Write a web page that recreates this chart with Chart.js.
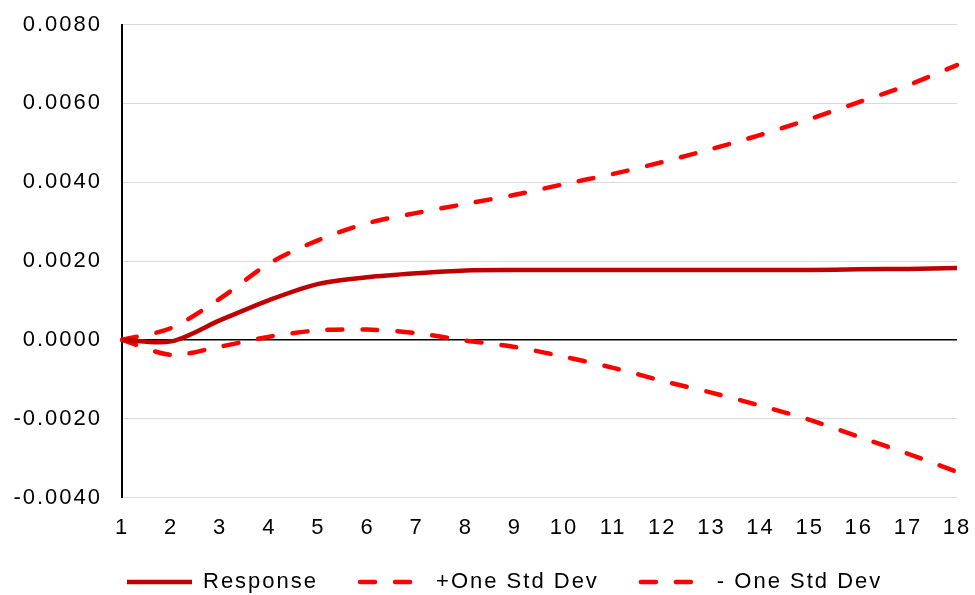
<!DOCTYPE html>
<html>
<head>
<meta charset="utf-8">
<script src="https://cdn.jsdelivr.net/npm/chart.js@4.4.1/dist/chart.umd.min.js"></script>
<style>
  html, body { margin: 0; padding: 0; background: #ffffff; }
  #wrap { width: 975px; height: 595px; position: relative; }
</style>
</head>
<body>
<div id="wrap"><canvas id="chart"></canvas></div>
<script>
// Periods after the shock
const periods = ['1','2','3','4','5','6','7','8','9','10','11','12','13','14','15','16','17','18'];

// Impulse response and its one-standard-deviation band
const response = [0, -0.00004, 0.00050, 0.00101, 0.00142, 0.00159, 0.00169, 0.00176, 0.00177,
                  0.00177, 0.00177, 0.00177, 0.00177, 0.00177, 0.00177, 0.00179, 0.00180, 0.00182];
const upperBand = [0, 0.00030, 0.00105, 0.00194, 0.00253, 0.00296, 0.00322, 0.00345, 0.00368,
                   0.00395, 0.00421, 0.00451, 0.00484, 0.00520, 0.00560, 0.00603, 0.00646, 0.00697];
const lowerBand = [0, -0.00038, -0.00017, 0.00008, 0.00024, 0.00026, 0.00017, -0.00002, -0.00018,
                   -0.00043, -0.00071, -0.00104, -0.00134, -0.00167, -0.00203, -0.00246, -0.00289, -0.00335];

const seriesNames = ['Response', '+One Std Dev', '- One Std Dev'];

// Value axis range
const yMin = -0.004, yMax = 0.008, yStep = 0.002;

const FONT = { family: '"Liberation Sans", Arial, sans-serif', size: 22 };

// Slightly wider letter spacing for all canvas text; legend row starts under the plot,
// and the category labels get room below the axis
const helperPlugin = {
  id: 'helper',
  beforeLayout(chart) { chart.ctx.letterSpacing = '2px'; },
  afterLayout(chart) {
    if (chart.legend) chart.legend.left = 85;
    const x = chart.scales.x;
    if (x) x.bottom = x.top + 50;
  },
  beforeDraw(chart) { chart.ctx.letterSpacing = '2px'; }
};

new Chart(document.getElementById('chart'), {
  type: 'line',
  data: {
    labels: periods,
    datasets: [
      {
        label: seriesNames[0],
        data: response,
        borderColor: '#C00000',
        backgroundColor: '#C00000',
        borderWidth: 4.5,
        borderCapStyle: 'butt',
        pointRadius: 0,
        tension: 0.3
      },
      {
        label: seriesNames[1],
        data: upperBand,
        borderColor: '#FF0000',
        backgroundColor: '#FF0000',
        borderWidth: 4.5,
        borderDash: [15, 20],
        borderCapStyle: 'round',
        pointRadius: 0,
        tension: 0.3
      },
      {
        label: seriesNames[2],
        data: lowerBand,
        borderColor: '#FF0000',
        backgroundColor: '#FF0000',
        borderWidth: 4.5,
        borderDash: [15, 20],
        borderCapStyle: 'round',
        pointRadius: 0,
        tension: 0.3
      }
    ]
  },
  options: {
    responsive: true,
    maintainAspectRatio: false,
    animation: false,
    layout: { padding: { left: 0, right: 18, top: 24.5, bottom: -8 } },
    plugins: {
      legend: {
        position: 'bottom',
        align: 'start',
        labels: {
          usePointStyle: true,
          pointStyleWidth: 65,
          padding: 42,
          color: '#000000',
          font: FONT,
          generateLabels(chart) {
            return chart.data.datasets.map((ds, i) => ({
              text: ds.label,
              fillStyle: ds.borderColor,
              strokeStyle: ds.borderColor,
              fontColor: '#000000',
              lineWidth: ds.borderWidth,
              lineDash: ds.borderDash || [],
              lineDashOffset: 0,
              lineCap: ds.borderCapStyle,
              pointStyle: 'line',
              hidden: false,
              datasetIndex: i
            }));
          }
        }
      },
      tooltip: { enabled: false }
    },
    scales: {
      x: {
        offset: false,
        grid: { display: false, drawTicks: false },
        border: { display: false },
        ticks: { color: '#000000', font: FONT, padding: 17, maxRotation: 0, autoSkip: false },
        afterFit(scale) { scale.height = 31.5; scale.paddingLeft = 0; scale.paddingRight = 0; }
      },
      y: {
        min: yMin,
        max: yMax,
        grid: {
          drawTicks: false,
          color: (ctx) => (ctx.tick && Math.abs(ctx.tick.value) < 1e-9) ? '#000000' : '#D9D9D9',
          lineWidth: (ctx) => (ctx.tick && Math.abs(ctx.tick.value) < 1e-9) ? 1.5 : 1
        },
        border: { display: true, color: '#000000', width: 2 },
        ticks: {
          stepSize: yStep,
          color: '#000000',
          font: FONT,
          padding: 20,
          callback: (v) => {
            const r = Math.round(v * 10000) / 10000;
            return (r === 0 ? 0 : r).toFixed(4);
          }
        },
        afterFit(scale) { scale.width = 122; scale.paddingTop = 0; scale.paddingBottom = 0; }
      }
    }
  },
  plugins: [helperPlugin]
});
</script>
</body>
</html>
